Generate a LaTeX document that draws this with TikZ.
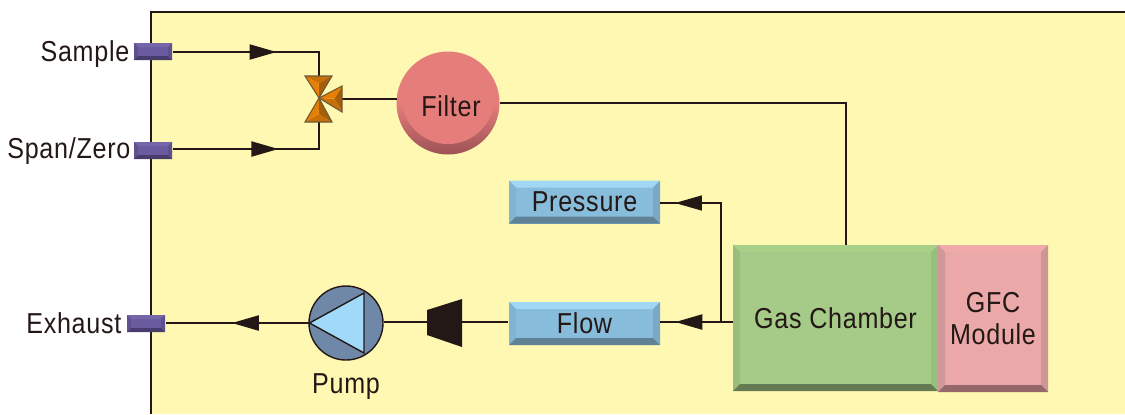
\documentclass[tikz,border=0pt]{standalone}
\usepackage{fontspec}
\setmainfont[FakeStretch=0.87,LetterSpace=2.5]{Liberation Sans}
\usetikzlibrary{arrows.meta,decorations.markings}
\definecolor{panelfill}{HTML}{FFF8B2}
\definecolor{linecol}{HTML}{231815}
\definecolor{portmain}{HTML}{6A5B9E}
\definecolor{porttop}{HTML}{7566AA}
\definecolor{portside}{HTML}{5F5090}
\definecolor{portbot}{HTML}{483C6E}
\definecolor{sensormain}{HTML}{88BCDB}
\definecolor{sensortop}{HTML}{A0D8F4}
\definecolor{sensorleft}{HTML}{80B4D2}
\definecolor{sensorright}{HTML}{7CA8C4}
\definecolor{sensorbot}{HTML}{5F8296}
\definecolor{chambermain}{HTML}{A6CB88}
\definecolor{chambertop}{HTML}{A8D088}
\definecolor{chamberleft}{HTML}{98BE7E}
\definecolor{chamberright}{HTML}{98BE7E}
\definecolor{chamberbot}{HTML}{647A52}
\definecolor{gfcmain}{HTML}{EBA8A8}
\definecolor{gfctop}{HTML}{F0AAAA}
\definecolor{gfcleft}{HTML}{D09898}
\definecolor{gfcright}{HTML}{CC9696}
\definecolor{gfcbot}{HTML}{946868}
\definecolor{filtermain}{HTML}{E57D7A}
\definecolor{filterdark}{HTML}{9C5256}
\definecolor{valvelight}{HTML}{E87E04}
\definecolor{valvemid}{HTML}{C87008}
\definecolor{valvedark}{HTML}{A85E08}
\definecolor{valveedge}{HTML}{6B5A3A}
\definecolor{pumpcol}{HTML}{7088A8}
\definecolor{pumptri}{HTML}{A0DAF8}
\tikzset{
  bevelbox/.style n args={6}{inner sep=0pt,fill=#1,path picture={
    \fill[#2] (path picture bounding box.north west) -- (path picture bounding box.north east)
      -- ([shift={(-#6,#6)}]path picture bounding box.north east) -- ([shift={(#6,#6)}]path picture bounding box.north west) -- cycle;
    \fill[#3] (path picture bounding box.north west) -- (path picture bounding box.south west)
      -- ([shift={(#6,-#6)}]path picture bounding box.south west) -- ([shift={(#6,#6)}]path picture bounding box.north west) -- cycle;
    \fill[#4] (path picture bounding box.north east) -- (path picture bounding box.south east)
      -- ([shift={(-#6,-#6)}]path picture bounding box.south east) -- ([shift={(-#6,#6)}]path picture bounding box.north east) -- cycle;
    \fill[#5] (path picture bounding box.south west) -- (path picture bounding box.south east)
      -- ([shift={(-#6,-#6)}]path picture bounding box.south east) -- ([shift={(#6,-#6)}]path picture bounding box.south west) -- cycle;
  }},
  portbox/.style={bevelbox={portmain}{porttop}{portside}{portside}{portbot}{4},minimum width=38*0.01cm,minimum height=17*0.01cm},
  sensorbox/.style={bevelbox={sensormain}{sensortop}{sensorleft}{sensorright}{sensorbot}{7},minimum width=151*0.01cm,minimum height=43*0.01cm},
  txt/.style={font=\fontsize{8.2}{9.1}\selectfont,text=linecol,inner sep=0pt},
  line/.style={draw=linecol,line width=0.6pt},
  thinline/.style={draw=linecol,line width=0.4pt},
  midarrow/.style={postaction={decorate,decoration={markings,mark=at position #1 with {\arrow{Triangle[length=0.27cm,width=0.15cm]}}}}},
}
\newcommand{\valvewing}[6]{%
  \coordinate (mid) at (barycentric cs:#1=1,#2=1,#3=1);
  \fill[#4] (#1) -- (#2) -- (mid) -- cycle;
  \fill[#5] (#2) -- (#3) -- (mid) -- cycle;
  \fill[#6] (#3) -- (#1) -- (mid) -- cycle;
  \draw[valveedge,line width=0.3pt] (#1) -- (#2) -- (#3) -- cycle;
}
\begin{document}
\begin{tikzpicture}[x=0.01cm,y=-0.01cm]
\useasboundingbox (0,0) rectangle (1125,414);
\fill[panelfill] (151,12) rectangle (1125,414);
\draw[thinline] (151,414) -- (151,12) -- (1125,12);

\node[portbox] at (153,51.5) (sample) {};
\node[portbox] at (153,150.5) (span) {};
\node[portbox] at (146,323.5) (exhaust) {};
\node[txt,anchor=east] at (130,54) (samplelabel) {Sample};
\node[txt,anchor=east] at (131,151) (spanlabel) {Span/Zero};
\node[txt,anchor=east] at (122,323) (exhaustlabel) {Exhaust};

\coordinate (valve) at (319,98);
\coordinate (valvetl) at (305,76);
\coordinate (valvetr) at (332,76);
\coordinate (valvebl) at (305,122);
\coordinate (valvebr) at (332,122);
\coordinate (valveru) at (342,86);
\coordinate (valverd) at (342,112);
\coordinate (valvetop) at (319,76);
\coordinate (valvebot) at (319,122);
\coordinate (valveright) at (342,99);

\node[circle,inner sep=0pt,minimum size=103*0.01cm,top color=filtermain,bottom color=filterdark,middle color=filtermain] at (448,103) (filter) {};
\fill[filtermain] (448,98) circle (46);
\node[txt] at (451,106) (filterlabel) {Filter};

\node[sensorbox,txt] at (584.5,202) (pressure) {\raisebox{-1pt}{Pressure}};
\node[sensorbox,txt] at (584.5,323.5) (flow) {Flow};
\node[bevelbox={chambermain}{chambertop}{chamberleft}{chamberright}{chamberbot}{7},minimum width=205*0.01cm,minimum height=146*0.01cm,txt] at (835.5,318) (chamber) {Gas Chamber};
\node[bevelbox={gfcmain}{gfctop}{gfcleft}{gfcright}{gfcbot}{7},minimum width=110*0.01cm,minimum height=147*0.01cm,txt,align=center] at (993,318.5) (gfc) {GFC\\Module};

\coordinate (junction) at (721,322);
\coordinate (filterout) at (500,103);
\coordinate (filterin) at (397,99);
\coordinate (flowin) at (660,322);
\coordinate (pressurein) at (660,203);
\coordinate (chamberout) at (733,322);
\coordinate (chamberin) at (846,245);

\draw[line,midarrow=0.61] (sample.east |- 0,52) -- (319,52) -- (valvetop);
\draw[line,midarrow=0.61] (span.east |- 0,149) -- (319,149) -- (valvebot);
\draw[line] (filterin) -- (valveright);
\draw[thinline] (filterout) -| (chamberin);
\draw[line,midarrow=0.79] (chamberout) -- (flowin);
\draw[thinline,midarrow=0.917] (junction) |- (pressurein);

\node[circle,draw=linecol,line width=0.4pt,fill=pumpcol,inner sep=0pt,minimum size=74*0.01cm] at (346,323) (pump) {};
\coordinate (pumpa) at (309.5,323);
\coordinate (pumpb) at (364,293);
\coordinate (pumpc) at (364,353);
\filldraw[fill=pumptri,draw=linecol,line width=0.4pt] (pumpa) -- (pumpb) -- (pumpc) -- cycle;
\node[txt] at (346,387) (pumplabel) {Pump};

\coordinate (nozzlea) at (427,310);
\coordinate (nozzleb) at (462,299);
\coordinate (nozzlec) at (462,347);
\coordinate (nozzled) at (427,335);
\fill[linecol] (nozzlea) -- (nozzleb) -- (nozzlec) -- (nozzled) -- cycle;

\draw[line] (flow.west |- flowin) -- (pump.east |- flowin);
\draw[line,midarrow=0.54] (pumpa) -- (exhaust.east |- pumpa);

\valvewing{valvetl}{valvetr}{valve}{valvemid}{valvedark}{valvelight}
\valvewing{valvebr}{valvebl}{valve}{valvemid}{valvelight}{valvedark}
\valvewing{valveru}{valverd}{valve}{valvedark}{valvemid}{valvelight}
\end{tikzpicture}
\end{document}
